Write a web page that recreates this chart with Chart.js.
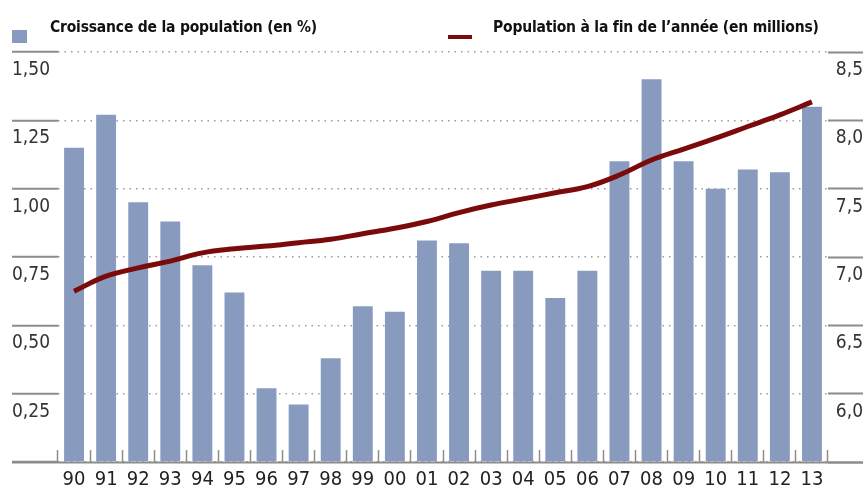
<!DOCTYPE html>
<html>
<head>
<meta charset="utf-8">
<script src="https://cdn.jsdelivr.net/npm/chart.js@4/dist/chart.umd.min.js"></script>
<style>
  html, body { margin: 0; padding: 0; background: #fff; }
  #wrap { position: relative; width: 867px; height: 487px; }
  .leg { position: absolute; top: 18px; font-family: "Liberation Sans Narrow", "DejaVu Sans Condensed", sans-serif;
         font-weight: bold; font-size: 15.5px; color: #111; white-space: nowrap; letter-spacing: -0.2px; }
  .carre { position: absolute; left: 12px; top: 30px; width: 15px; height: 13px; background: #889bbf; }
  .trait { position: absolute; left: 448px; top: 35px; width: 24px; height: 4px; background: #7b0a0a; }
</style>
</head>
<body>
<div id="wrap">
  <canvas id="myChart" width="867" height="487"></canvas>
  <div class="carre"></div>
  <div class="leg" style="left:50px">Croissance de la population (en %)</div>
  <div class="trait"></div>
  <div class="leg" style="left:493px">Population à la fin de l’année (en millions)</div>
</div>
<script>
var annees = ["90", "91", "92", "93", "94", "95", "96", "97", "98", "99", "00", "01",
    "02", "03", "04", "05", "06", "07", "08", "09", "10", "11", "12", "13"];
var croissance = [1.15, 1.27, 0.95, 0.88, 0.72, 0.62, 0.27, 0.21, 0.38, 0.57, 0.55, 0.81,
    0.80, 0.70, 0.70, 0.60, 0.70, 1.10, 1.40, 1.10, 1.00, 1.07, 1.06, 1.30];
var population = [6.75, 6.86, 6.92, 6.97, 7.03, 7.06, 7.08, 7.105, 7.13, 7.17, 7.21, 7.26,
    7.325, 7.38, 7.425, 7.47, 7.515, 7.60, 7.71, 7.79, 7.87, 7.955, 8.04, 8.135];

var police = "'DejaVu Sans Condensed', 'Liberation Sans Narrow', sans-serif";

// ligne de base grise qui depasse la zone du graphique
var ligneBase = {
    id: 'ligneBase',
    beforeDatasetsDraw: function (chart) {
        var ctx = chart.ctx;
        var y = Math.round(chart.scales.y.getPixelForValue(0)) + 0.5;
        ctx.save();
        ctx.strokeStyle = '#8c8c8c';
        ctx.lineWidth = 2;
        ctx.beginPath();
        ctx.moveTo(12, y);
        ctx.lineTo(863, y);
        ctx.stroke();
        ctx.restore();
    }
};

var ctx = document.getElementById('myChart').getContext('2d');
var chart = new Chart(ctx, {
    type: 'bar',
    data: {
        labels: annees,
        datasets: [{
            type: 'line',
            label: "Population à la fin de l’année (en millions)",
            data: population,
            yAxisID: 'y2',
            borderColor: '#7b0a0a',
            borderWidth: 5,
            pointRadius: 0,
            tension: 0.4,
            order: 0
        }, {
            label: "Croissance de la population (en %)",
            data: croissance,
            yAxisID: 'y',
            backgroundColor: '#889bbf',
            categoryPercentage: 1,
            barPercentage: 0.62,
            order: 1
        }]
    },
    options: {
        responsive: false,
        animation: false,
        layout: { padding: { top: 52, left: 12, right: 4, bottom: 0 } },
        plugins: { legend: { display: false }, tooltip: { enabled: false } },
        scales: {
            x: {
                offset: true,
                grid: { offset: true, drawOnChartArea: false, drawTicks: true, tickLength: -12,
                        tickColor: '#8c8c8c', tickWidth: 1.5 },
                border: { display: false },
                ticks: { padding: 18, color: '#222', font: { family: police, size: 20 } },
                afterFit: function (s) { s.height = 25; }
            },
            y: {
                position: 'left',
                min: 0, max: 1.5,
                grid: { color: '#9a9a9a', lineWidth: 1.5, tickLength: 46, tickColor: '#8c8c8c', tickWidth: 2 },
                border: { display: false, dash: [1.5, 5] },
                ticks: {
                    stepSize: 0.25, crossAlign: 'far', labelOffset: 18, color: '#333',
                    font: { family: police, size: 19 },
                    callback: function (v) { return v === 0 ? '' : v.toFixed(2).replace('.', ','); }
                },
                afterFit: function (s) { s.width = 46; }
            },
            y2: {
                position: 'right',
                min: 5.5, max: 8.5,
                grid: { drawOnChartArea: false, tickLength: 35, tickColor: '#8c8c8c', tickWidth: 2 },
                border: { display: false },
                ticks: {
                    stepSize: 0.5, crossAlign: 'far', labelOffset: 18, color: '#333',
                    font: { family: police, size: 19 },
                    callback: function (v) { return v === 5.5 ? '' : v.toFixed(1).replace('.', ','); }
                },
                afterFit: function (s) { s.width = 35; }
            }
        }
    },
    plugins: [ligneBase]
});
</script>
</body>
</html>
